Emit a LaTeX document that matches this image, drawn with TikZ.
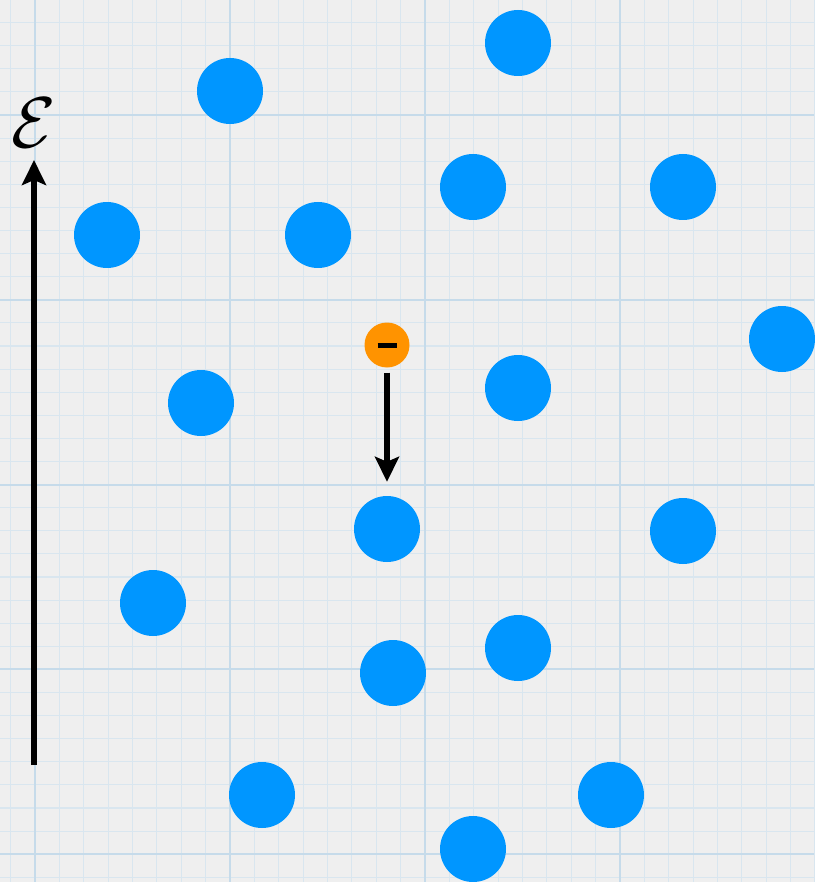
\documentclass[tikz,border=0pt]{standalone}
\usepackage{tikz}
\usetikzlibrary{arrows.meta,positioning}
\definecolor{paperbg}{HTML}{EFEFEF}
\definecolor{gridmin}{HTML}{D9E6EF}
\definecolor{gridmaj}{HTML}{C6DBEA}
\definecolor{atomblue}{HTML}{0096FF}
\definecolor{elecorange}{HTML}{FF9300}
\tikzset{
  atom/.style = {circle, fill=atomblue, minimum size=66pt, inner sep=0pt},
  elec/.style = {circle, fill=elecorange, minimum size=45pt, inner sep=0pt},
  arr/.style  = {-{Stealth[length=25pt, width=24pt, inset=5pt]}, line width=5.5pt},
  gmin/.style = {draw=gridmin, line width=1.1pt},
  gmaj/.style = {draw=gridmaj, line width=2.4pt},
}
\begin{document}
\begin{tikzpicture}[x=1pt,y=-1pt]
  \fill[paperbg] (0,0) rectangle (814,882);
  \useasboundingbox (0,0) rectangle (814,882);
  % graph paper
  \foreach \i in {-1,...,32}
    \draw[gmin] ({35+24.375*\i},0) -- ++(0,882);
  \foreach \j in {-5,...,33}
    \draw[gmin] (0,{115+23.1*\j}) -- ++(814,0);
  \foreach \x in {35,230,425,620}
    \draw[gmaj] (\x,0) -- ++(0,882);
  \foreach \y in {115,300,485,669,854}
    \draw[gmaj] (0,\y) -- ++(814,0);
  % lattice
  \foreach \n/\x/\y in {1/518/43, 2/230/91, 3/473/187, 4/683/187, 5/107/235,
                       6/318/235, 7/782/339, 8/518/388, 9/201/403, 10/387/529,
                       11/683/531, 12/153/603, 13/518/648, 14/393/673,
                       15/262/795, 16/611/795, 17/473/849}
    \node[atom] (a\n) at (\x,\y) {};
  % electron falling
  \node[elec] (e) at (387,345) {\rule[-1pt]{19pt}{5pt}};
  \draw[arr, shorten <=5pt, shorten >=14pt] (e) -- (a10);
  % energy axis
  \coordinate (axbot) at (34,765);
  \coordinate (axtop) at (34,160);
  \draw[arr] (axbot) -- (axtop);
  \node[above=12pt of axtop, inner sep=0pt] (elab)
    {\scalebox{7.2}{$\mathcal{E}$}};
\end{tikzpicture}
\end{document}
